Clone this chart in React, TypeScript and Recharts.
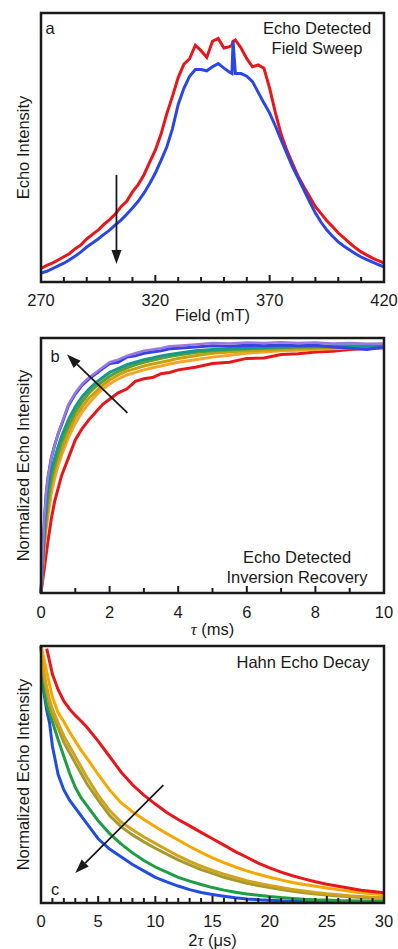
import React from 'react';
import { LineChart, Line, XAxis, YAxis, ReferenceArea, ReferenceLine } from 'recharts';

// panel a: echo detected field sweep
const field = [270, 272.5, 275, 277.5, 280, 282.5, 285, 287.5, 290, 292.5, 295, 297.5, 300, 302.5, 305, 307.5, 310, 312.5, 315, 317.5, 320, 322.5, 325, 327.5, 330, 332.5, 335, 337.5, 340, 342.5, 345, 347.5, 350, 352.5, 353.5, 354, 355, 357.5, 360, 362.5, 365, 367.5, 370, 372.5, 375, 377.5, 380, 382.5, 385, 387.5, 390, 392.5, 395, 397.5, 400, 402.5, 405, 407.5, 410, 412.5, 415, 417.5, 420];
const sweepRed = [0.05, 0.062, 0.07, 0.082, 0.094, 0.106, 0.124, 0.138, 0.16, 0.177, 0.193, 0.214, 0.232, 0.253, 0.28, 0.3, 0.335, 0.362, 0.398, 0.445, 0.49, 0.55, 0.625, 0.69, 0.76, 0.81, 0.83, 0.88, 0.86, 0.835, 0.895, 0.905, 0.87, 0.875, 0.88, 0.895, 0.9, 0.87, 0.83, 0.8, 0.807, 0.795, 0.72, 0.63, 0.55, 0.49, 0.44, 0.392, 0.353, 0.317, 0.28, 0.254, 0.228, 0.206, 0.182, 0.164, 0.145, 0.127, 0.112, 0.1, 0.089, 0.079, 0.07];
const sweepBlue = [0.033, 0.04, 0.05, 0.06, 0.07, 0.083, 0.097, 0.112, 0.13, 0.145, 0.16, 0.177, 0.193, 0.212, 0.23, 0.252, 0.275, 0.3, 0.33, 0.365, 0.405, 0.452, 0.502, 0.57, 0.66, 0.72, 0.765, 0.79, 0.79, 0.785, 0.8, 0.812, 0.795, 0.78, 0.775, 0.895, 0.775, 0.775, 0.765, 0.745, 0.705, 0.665, 0.628, 0.58, 0.528, 0.478, 0.428, 0.385, 0.342, 0.298, 0.256, 0.222, 0.193, 0.17, 0.149, 0.133, 0.119, 0.105, 0.093, 0.083, 0.074, 0.065, 0.056];

// panel b: inversion recovery
const tau = [0, 0.05, 0.1, 0.15, 0.2, 0.3, 0.4, 0.5, 0.6, 0.8, 1.0, 1.2, 1.4, 1.6, 1.8, 2.0, 2.25, 2.5, 2.75, 3.0, 3.25, 3.5, 3.75, 4.0, 4.5, 5.0, 5.5, 6.0, 6.5, 7.0, 7.5, 8.0, 8.5, 9.0, 9.5, 10];
const recRed = [0, 0.05, 0.1, 0.15, 0.2, 0.29, 0.36, 0.41, 0.46, 0.53, 0.6, 0.645, 0.68, 0.71, 0.74, 0.76, 0.785, 0.8, 0.83, 0.84, 0.845, 0.86, 0.865, 0.875, 0.885, 0.9, 0.905, 0.92, 0.922, 0.935, 0.938, 0.945, 0.948, 0.955, 0.96, 0.96];
const recOrange = [0, 0.1, 0.18, 0.25, 0.3, 0.39, 0.45, 0.5, 0.54, 0.61, 0.665, 0.71, 0.745, 0.775, 0.8, 0.82, 0.84, 0.855, 0.865, 0.875, 0.883, 0.89, 0.898, 0.905, 0.915, 0.925, 0.932, 0.94, 0.945, 0.95, 0.952, 0.955, 0.958, 0.96, 0.96, 0.96];
const recGold = [0, 0.11, 0.2, 0.27, 0.33, 0.42, 0.48, 0.52, 0.56, 0.63, 0.69, 0.73, 0.765, 0.79, 0.815, 0.835, 0.855, 0.87, 0.88, 0.89, 0.898, 0.905, 0.912, 0.92, 0.93, 0.94, 0.945, 0.95, 0.952, 0.955, 0.958, 0.96, 0.962, 0.965, 0.965, 0.965];
const recGreen = [0, 0.12, 0.22, 0.3, 0.37, 0.45, 0.505, 0.55, 0.59, 0.655, 0.71, 0.75, 0.785, 0.81, 0.83, 0.85, 0.868, 0.883, 0.895, 0.905, 0.913, 0.92, 0.927, 0.933, 0.943, 0.95, 0.954, 0.957, 0.96, 0.962, 0.964, 0.965, 0.966, 0.967, 0.967, 0.967];
const recTeal = [0, 0.13, 0.25, 0.33, 0.4, 0.48, 0.53, 0.575, 0.615, 0.68, 0.73, 0.77, 0.8, 0.825, 0.845, 0.865, 0.88, 0.895, 0.905, 0.915, 0.922, 0.93, 0.935, 0.94, 0.95, 0.955, 0.958, 0.96, 0.963, 0.965, 0.967, 0.968, 0.97, 0.97, 0.97, 0.97];
const recBlue = [0, 0.15, 0.29, 0.39, 0.45, 0.53, 0.58, 0.625, 0.66, 0.735, 0.78, 0.815, 0.84, 0.86, 0.88, 0.9, 0.905, 0.925, 0.93, 0.94, 0.945, 0.95, 0.958, 0.96, 0.965, 0.97, 0.968, 0.972, 0.97, 0.973, 0.97, 0.972, 0.965, 0.96, 0.955, 0.965];
const recPurple = [0, 0.15, 0.29, 0.39, 0.45, 0.53, 0.58, 0.625, 0.665, 0.74, 0.785, 0.82, 0.845, 0.865, 0.885, 0.905, 0.915, 0.93, 0.94, 0.95, 0.955, 0.96, 0.968, 0.97, 0.975, 0.98, 0.978, 0.982, 0.98, 0.983, 0.98, 0.982, 0.978, 0.98, 0.977, 0.978];

// panel c: Hahn echo decay
const twoTau = [0, 0.25, 0.5, 0.75, 1, 1.5, 2, 2.5, 3, 3.5, 4, 5, 6, 7, 8, 9, 10, 11, 12, 13, 14, 15, 16, 17, 18, 19, 20, 21, 22, 23, 24, 25, 26, 27, 28, 29, 30];
const hahnRed = [null, null, 0.99, 0.94, 0.89, 0.83, 0.785, 0.755, 0.73, 0.708, 0.685, 0.63, 0.57, 0.51, 0.46, 0.42, 0.385, 0.352, 0.325, 0.3, 0.275, 0.25, 0.225, 0.2, 0.178, 0.155, 0.137, 0.12, 0.106, 0.094, 0.083, 0.073, 0.065, 0.057, 0.05, 0.045, 0.04];
const hahnOrange = [1.0, 0.95, 0.9, 0.85, 0.8, 0.74, 0.705, 0.665, 0.63, 0.595, 0.565, 0.5, 0.44, 0.39, 0.355, 0.325, 0.297, 0.27, 0.245, 0.22, 0.197, 0.176, 0.157, 0.14, 0.125, 0.112, 0.1, 0.09, 0.08, 0.072, 0.065, 0.058, 0.052, 0.046, 0.04, 0.036, 0.032];
const hahnGold = [1.0, 0.9, 0.84, 0.79, 0.755, 0.7, 0.65, 0.61, 0.57, 0.53, 0.49, 0.42, 0.36, 0.315, 0.285, 0.257, 0.232, 0.207, 0.183, 0.162, 0.143, 0.127, 0.112, 0.099, 0.087, 0.077, 0.068, 0.06, 0.053, 0.047, 0.041, 0.036, 0.032, 0.028, 0.025, 0.022, 0.02];
const hahnOlive = [1.0, 0.88, 0.82, 0.77, 0.735, 0.68, 0.625, 0.585, 0.545, 0.505, 0.465, 0.4, 0.34, 0.297, 0.265, 0.238, 0.213, 0.19, 0.168, 0.148, 0.13, 0.115, 0.1, 0.088, 0.077, 0.068, 0.06, 0.052, 0.046, 0.04, 0.035, 0.031, 0.027, 0.024, 0.021, 0.019, 0.017];
const hahnGreen = [1.0, 0.83, 0.77, 0.735, 0.705, 0.635, 0.57, 0.505, 0.45, 0.41, 0.38, 0.32, 0.27, 0.23, 0.195, 0.165, 0.14, 0.12, 0.1, 0.085, 0.072, 0.06, 0.05, 0.042, 0.035, 0.03, 0.025, 0.021, 0.018, 0.015, 0.013, 0.012, 0.01, 0.009, 0.008, 0.008, 0.007];
const hahnBlue = [1.0, 0.82, 0.75, 0.7, 0.61, 0.5, 0.44, 0.4, 0.37, 0.34, 0.31, 0.25, 0.21, 0.18, 0.15, 0.125, 0.1, 0.082, 0.066, 0.052, 0.041, 0.033, 0.026, 0.02, 0.016, 0.013, 0.011, 0.009, 0.008, 0.007, 0.006, 0.005, 0.005, 0.004, 0.004, 0.004, 0.004];

const fieldTicks = [270, 280, 290, 300, 310, 320, 330, 340, 350, 360, 370, 380, 390, 400, 410, 420];
const fieldLabels = [270, 320, 370, 420];
const tauTicks = [0, 1, 2, 3, 4, 5, 6, 7, 8, 9, 10];
const tauLabels = [0, 2, 4, 6, 8, 10];
const twoTauTicks = Array.from({ length: 31 }, (_, i) => i);
const twoTauLabels = [0, 5, 10, 15, 20, 25, 30];

const FONT = "'Liberation Sans', Arial, Helvetica, sans-serif";
const INK = '#1a1a1a';

const rows = (xs: number[], series: Record<string, (number | null)[]>) =>
  xs.map((x, i) => {
    const r: any = { x };
    Object.keys(series).forEach((k) => (r[k] = series[k][i]));
    return r;
  });

const sweepData = rows(field, { red: sweepRed, blue: sweepBlue });
const recData = rows(tau, { red: recRed, orange: recOrange, gold: recGold, green: recGreen, teal: recTeal, blue: recBlue, purple: recPurple });
const hahnData = rows(twoTau, { red: hahnRed, orange: hahnOrange, gold: hahnGold, olive: hahnOlive, green: hahnGreen, blue: hahnBlue });

const makeTick = (labels: number[], labelDy: number) => (props: any) => {
  const { x, y, payload } = props;
  const major = labels.includes(payload.value);
  return (
    <g>
      <line x1={x} x2={x} y1={y} y2={y - (major ? 7 : 5)} stroke={INK} strokeWidth={2} />
      {major && (
        <text x={x} y={y + labelDy} textAnchor="middle" dominantBaseline="central" fontSize={16.5} fill={INK} fontFamily={FONT}>
          {payload.value}
        </text>
      )}
    </g>
  );
};

const yLabel = (text: string) => (props: any) => {
  const vb = props.viewBox || { x: 0, y: 0, width: 41, height: 0 };
  const cx = vb.x + 23;
  const cy = vb.y + vb.height / 2;
  return (
    <text x={cx} y={cy} transform={`rotate(-90 ${cx} ${cy})`} textAnchor="middle" dominantBaseline="central" fontSize={16.5} fill={INK} fontFamily={FONT}>
      {text}
    </text>
  );
};

const xLabel = (content: React.ReactNode, dy: number) => (props: any) => {
  const vb = props.viewBox || { x: 0, y: 0, width: 0, height: 0 };
  return (
    <text x={vb.x + vb.width / 2} y={vb.y + dy} textAnchor="middle" dominantBaseline="central" fontSize={16.5} fill={INK} fontFamily={FONT}>
      {content}
    </text>
  );
};

const Arrow = (props: any) => {
  const { x1, y1, x2, y2 } = props;
  const ang = Math.atan2(y2 - y1, x2 - x1);
  const L = 14;
  const W = 5;
  const bx = x2 - L * Math.cos(ang);
  const by = y2 - L * Math.sin(ang);
  const px = -Math.sin(ang) * W;
  const py = Math.cos(ang) * W;
  return (
    <g>
      <line x1={x1} y1={y1} x2={bx} y2={by} stroke={INK} strokeWidth={1.8} />
      <polygon points={`${x2},${y2} ${bx + px},${by + py} ${bx - px},${by - py}`} fill={INK} />
    </g>
  );
};

const textStyle: React.CSSProperties = {
  position: 'absolute',
  fontFamily: FONT,
  fontSize: 16.5,
  color: INK,
  lineHeight: '19.5px',
  whiteSpace: 'nowrap',
};

const Title = ({ cx, top, lines }: { cx: number; top: number; lines: string[] }) => (
  <div style={{ ...textStyle, left: cx - 100, width: 200, top, textAlign: 'center' }}>
    {lines.map((l) => (
      <div key={l}>{l}</div>
    ))}
  </div>
);

const Letter = ({ x, y, t }: { x: number; y: number; t: string }) => (
  <div style={{ ...textStyle, left: x - 6, top: y - 10, width: 12, textAlign: 'center' }}>{t}</div>
);

const lineProps = { type: 'linear' as const, dot: false, isAnimationActive: false, strokeWidth: 3, connectNulls: false };

export default function App() {
  return (
    <div style={{ position: 'absolute', left: 0, top: 0, width: 398, height: 949, background: '#fff', overflow: 'hidden' }}>
      <div style={{ position: 'absolute', left: 0, top: 0 }}>
        <LineChart width={398} height={332} data={sweepData} margin={{ top: 13, right: 14, left: 0, bottom: 0 }}>
          <XAxis dataKey="x" type="number" domain={[270, 420]} ticks={fieldTicks} interval={0} height={50} axisLine={false} tickLine={false} tickSize={0} tickMargin={0} tick={makeTick(fieldLabels, 18)} label={{ content: xLabel('Field (mT)', 33) }} />
          <YAxis domain={[0, 1]} width={41} tick={false} axisLine={false} tickLine={false} allowDataOverflow label={{ content: yLabel('Echo Intensity') }} />
          <Line dataKey="red" stroke="#e8161b" {...lineProps} />
          <Line dataKey="blue" stroke="#2a47e6" {...lineProps} />
          <ReferenceLine segment={[{ x: 303, y: 0.398 }, { x: 303, y: 0.067 }]} shape={Arrow} zIndex={1000} />
          <ReferenceArea x1={270} x2={420} y1={0} y2={1} fill="none" stroke={INK} strokeWidth={2.5} zIndex={1000} />
        </LineChart>
      </div>
      <div style={{ position: 'absolute', left: 0, top: 322 }}>
        <LineChart width={398} height={318} data={recData} margin={{ top: 16, right: 14, left: 0, bottom: 0 }}>
          <XAxis dataKey="x" type="number" domain={[0, 10]} ticks={tauTicks} interval={0} height={47} axisLine={false} tickLine={false} tickSize={0} tickMargin={0} tick={makeTick(tauLabels, 19)} label={{ content: xLabel(<><tspan fontFamily="'Liberation Serif', serif" fontStyle="italic">τ</tspan> (ms)</>, 36) }} />
          <YAxis domain={[0, 1]} width={41} tick={false} axisLine={false} tickLine={false} allowDataOverflow label={{ content: yLabel('Normalized Echo Intensity') }} />
          <Line dataKey="red" stroke="#e8161b" {...lineProps} />
          <Line dataKey="orange" stroke="#f4a62a" {...lineProps} />
          <Line dataKey="gold" stroke="#c9a10c" {...lineProps} />
          <Line dataKey="green" stroke="#5c9f35" {...lineProps} />
          <Line dataKey="teal" stroke="#17988c" {...lineProps} />
          <Line dataKey="blue" stroke="#3a42e2" {...lineProps} />
          <Line dataKey="purple" stroke="#9a78dc" {...lineProps} strokeWidth={2.5} />
          <ReferenceLine segment={[{ x: 2.52, y: 0.706 }, { x: 0.76, y: 0.935 }]} shape={Arrow} zIndex={1000} />
          <ReferenceArea x1={0} x2={10} y1={0} y2={1} fill="none" stroke={INK} strokeWidth={2.5} zIndex={1000} />
        </LineChart>
      </div>
      <div style={{ position: 'absolute', left: 0, top: 640 }}>
        <LineChart width={398} height={309} data={hahnData} margin={{ top: 6, right: 14, left: 0, bottom: 0 }}>
          <XAxis dataKey="x" type="number" domain={[0, 30]} ticks={twoTauTicks} interval={0} height={46} axisLine={false} tickLine={false} tickSize={0} tickMargin={0} tick={makeTick(twoTauLabels, 18)} label={{ content: xLabel(<>2<tspan fontFamily="'Liberation Serif', serif" fontStyle="italic">τ</tspan> (μs)</>, 37) }} />
          <YAxis domain={[0, 1]} width={41} tick={false} axisLine={false} tickLine={false} allowDataOverflow label={{ content: yLabel('Normalized Echo Intensity') }} />
          <Line dataKey="blue" stroke="#1f4de0" {...lineProps} />
          <Line dataKey="green" stroke="#1e9e44" {...lineProps} />
          <Line dataKey="olive" stroke="#a39b2c" {...lineProps} />
          <Line dataKey="gold" stroke="#d0a21e" {...lineProps} />
          <Line dataKey="orange" stroke="#f5a800" {...lineProps} />
          <Line dataKey="red" stroke="#e8161b" {...lineProps} />
          <ReferenceLine segment={[{ x: 10.7, y: 0.459 }, { x: 3.0, y: 0.117 }]} shape={Arrow} zIndex={1000} />
          <ReferenceArea x1={0} x2={30} y1={0} y2={1} fill="none" stroke={INK} strokeWidth={2.5} zIndex={1000} />
        </LineChart>
      </div>
      <Letter x={50} y={29} t="a" />
      <Title cx={317} top={19} lines={['Echo Detected', 'Field Sweep']} />
      <Letter x={55} y={357} t="b" />
      <Title cx={297} top={548} lines={['Echo Detected', 'Inversion Recovery']} />
      <Letter x={55} y={890} t="c" />
      <Title cx={303} top={653} lines={['Hahn Echo Decay']} />
    </div>
  );
}
